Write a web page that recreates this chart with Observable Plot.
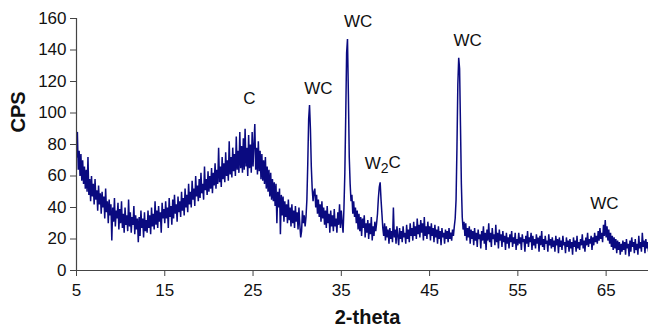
<!DOCTYPE html>
<html>
<head>
<meta charset="utf-8">
<script src="https://cdn.jsdelivr.net/npm/d3@7"></script>
<script src="https://cdn.jsdelivr.net/npm/@observablehq/plot@0.6"></script>
<style>
  html, body { margin: 0; padding: 0; background: #fff; }
  #chart { width: 648px; height: 334px; overflow: hidden; }
</style>
</head>
<body>
<div id="chart"></div>
<script>
// Scan step (degrees 2-theta) and start of each segment
const scanStep = 0.1;

// CPS readings, 10 per degree
const scan_05_15 = [
  72, 88, 64, 76, 60, 74, 57, 70, 55, 66,
  52, 64, 50, 72, 48, 58, 44, 60, 47, 55,
  42, 58, 45, 51, 38, 54, 42, 49, 36, 50,
  40, 47, 33, 52, 37, 44, 30, 45, 35, 42,
  19, 40, 31, 46, 28, 38, 33, 43, 26, 39,
  30, 44, 27, 36, 24, 40, 29, 35, 25, 45,
  28, 37, 24, 34, 29, 41, 23, 35, 26, 33,
  18, 34, 22, 38, 27, 33, 21, 37, 25, 32,
  24, 38, 27, 35, 23, 40, 28, 36, 26, 44,
  29, 38, 27, 41, 31, 37, 24, 43, 33, 39
];
const scan_15_25 = [
  30, 44, 33, 40, 27, 46, 34, 41, 29, 45,
  33, 48, 36, 42, 31, 47, 37, 44, 34, 50,
  38, 46, 35, 52, 40, 48, 37, 55, 42, 50,
  40, 57, 45, 52, 41, 60, 47, 54, 44, 58,
  46, 62, 49, 55, 45, 66, 51, 58, 48, 63,
  50, 60, 52, 65, 49, 62, 54, 68, 52, 64,
  55, 78, 56, 66, 53, 72, 58, 68, 56, 75,
  60, 70, 57, 82, 61, 72, 59, 78, 63, 74,
  60, 85, 64, 76, 62, 88, 65, 79, 62, 84,
  64, 90, 66, 78, 60, 86, 65, 80, 62, 88
];
const scan_25_35 = [
  66, 80, 93, 64, 78, 61, 82, 63, 76, 58,
  74, 57, 70, 55, 72, 52, 66, 50, 64, 47,
  62, 45, 58, 44, 56, 41, 55, 30, 50, 40,
  52, 23, 48, 35, 47, 31, 44, 34, 42, 30,
  45, 32, 40, 28, 42, 30, 38, 27, 41, 31,
  37, 26, 40, 29, 21, 25, 38, 30, 35, 28,
  34, 45, 68, 96, 105, 90, 66, 52, 44, 50,
  52, 40, 48, 36, 45, 34, 42, 31, 44, 33,
  40, 29, 38, 27, 41, 30, 36, 24, 38, 28,
  35, 25, 39, 28, 33, 24, 37, 29, 42, 27
];
const scan_35_45 = [
  38, 30, 24, 40, 62, 98, 138, 147, 112, 72,
  55, 44, 48, 36, 44, 34, 40, 30, 38, 26,
  36, 25, 34, 22, 33, 27, 35, 21, 30, 24,
  32, 20, 30, 23, 34, 19, 28, 22, 31, 25,
  30, 36, 46, 53, 56, 45, 36, 27, 22, 30,
  19, 28, 21, 26, 17, 27, 20, 25, 18, 40,
  21, 26, 17, 28, 22, 16, 27, 20, 25, 18,
  28, 21, 24, 17, 29, 20, 26, 18, 30, 22,
  27, 19, 31, 22, 28, 20, 33, 23, 29, 21,
  32, 24, 30, 19, 34, 22, 28, 20, 31, 23
];
const scan_45_55 = [
  28, 19, 30, 22, 27, 18, 29, 21, 26, 17,
  28, 20, 25, 16, 27, 21, 24, 17, 26, 20,
  25, 18, 27, 20, 24, 19, 26, 22, 28, 33,
  45, 78, 118, 135, 128, 92, 55, 34, 26, 31,
  22, 30, 19, 27, 21, 28, 17, 26, 20, 25,
  16, 27, 19, 24, 15, 26, 20, 23, 14, 25,
  19, 28, 17, 24, 13, 26, 19, 30, 18, 24,
  15, 27, 20, 23, 16, 29, 18, 24, 14, 26,
  19, 23, 15, 25, 18, 22, 13, 24, 17, 21,
  14, 23, 18, 25, 15, 21, 17, 24, 13, 20
];
const scan_55_70 = [
  16, 24, 17, 21, 13, 23, 18, 20, 12, 22,
  17, 25, 15, 21, 18, 24, 13, 22, 16, 20,
  14, 23, 17, 21, 12, 22, 16, 25, 15, 20,
  13, 22, 17, 19, 12, 23, 16, 20, 14, 21,
  15, 19, 12, 22, 16, 20, 11, 21, 15, 19,
  13, 22, 16, 18, 11, 21, 15, 19, 12, 20,
  14, 18, 10, 21, 15, 19, 12, 22, 14, 18,
  13, 20, 16, 23, 14, 19, 12, 21, 16, 24,
  15, 20, 17, 22, 13, 21, 16, 24, 18, 22,
  17, 25, 19, 27, 20, 24, 18, 29, 22, 32,
  21, 28, 19, 26, 17, 24, 15, 22, 13, 21,
  14, 20, 11, 19, 13, 18, 10, 17, 12, 19,
  13, 18, 10, 20, 14, 17, 9, 19, 12, 21,
  15, 18, 11, 20, 13, 17, 10, 22, 14, 18,
  12, 24, 15, 19, 11, 20, 14, 18, 12, 16
];
const segmentStarts = [5, 15, 25, 35, 45, 55];

// Axis ticks
const xTicks = [5, 15, 25, 35, 45, 55, 65];
const yTicks = [0, 20, 40, 60, 80, 100, 120, 140, 160];

// Peak labels
const peakLabel = ["C", "WC", "WC", "W2C", "WC", "WC"];
const peakLabelX = [24.6, 32.4, 36.9, 39.7, 49.3, 64.8];
const peakLabelY = [109, 115.5, 158, 68, 146, 42.5];

// Build table
const segments = [scan_05_15, scan_15_25, scan_25_35, scan_35_45, scan_45_55, scan_55_70];
const data = [];
segments.forEach((seg, k) => {
  seg.forEach((v, i) => data.push({theta: +(segmentStarts[k] + i * scanStep).toFixed(2), cps: v}));
});
const labels = peakLabel.map((t, i) => ({t, x: peakLabelX[i], y: peakLabelY[i]}));

const FONT = "'Liberation Sans', Arial, Helvetica, sans-serif";
const LINE = "#0a0a80";

const chart = Plot.plot({
  width: 648,
  height: 334,
  marginLeft: 76,
  marginRight: 0,
  marginTop: 18,
  marginBottom: 64,
  style: {fontFamily: FONT, fontSize: "17px", color: "#111", background: "#fff"},
  x: {domain: [5, 69.8], label: null},
  y: {domain: [0, 160], label: null},
  marks: [
    Plot.line(data, {x: "theta", y: "cps", stroke: LINE, strokeWidth: 1.5, strokeLinejoin: "miter", clip: true}),
    Plot.ruleX([5], {stroke: "#444", strokeWidth: 1.2}),
    Plot.ruleY([0], {stroke: "#444", strokeWidth: 1.2}),
    Plot.axisX({ticks: xTicks, tickSize: 6, tickPadding: 7, stroke: "#444", fontSize: 17, label: null}),
    Plot.axisY({ticks: yTicks, tickSize: 6, tickPadding: 4, stroke: "#444", fontSize: 17, label: null}),
    Plot.text(labels, {x: "x", y: "y", text: "t", fontSize: 17, fill: "#111", textAnchor: "middle", lineAnchor: "middle"}),
    Plot.text(["CPS"], {frameAnchor: "left", dx: -58, dy: -12, rotate: -90, fontSize: 20, fontWeight: "bold", fill: "#111"}),
    Plot.text(["2-theta"], {frameAnchor: "bottom", dx: 5, dy: 53, fontSize: 20, fontWeight: "bold", fill: "#111"})
  ]
});

// Render W2C with a real subscript
chart.querySelectorAll("text").forEach(el => {
  if (el.textContent === "W2C") {
    el.textContent = "";
    const ns = "http://www.w3.org/2000/svg";
    const a = document.createElementNS(ns, "tspan"); a.textContent = "W";
    const b = document.createElementNS(ns, "tspan"); b.textContent = "2"; b.setAttribute("dy", "0.3em"); b.setAttribute("font-size", "14");
    const c = document.createElementNS(ns, "tspan"); c.textContent = "C"; c.setAttribute("dy", "-0.3em");
    el.append(a, b, c);
  }
});

document.getElementById("chart").appendChild(chart);
</script>
</body>
</html>
